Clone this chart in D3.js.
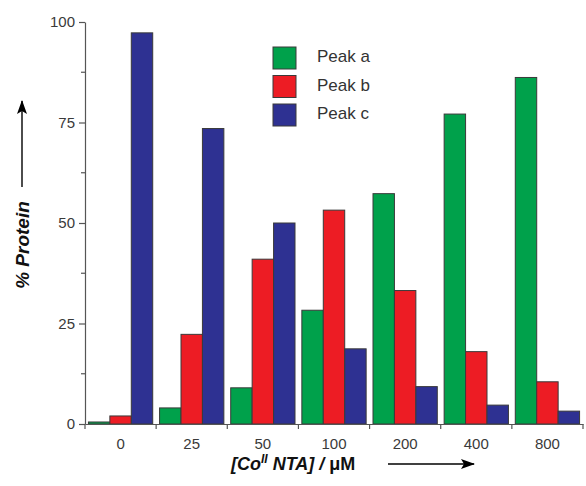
<!DOCTYPE html>
<html>
<head>
<meta charset="utf-8">
<script src="https://cdn.jsdelivr.net/npm/d3@7"></script>
<style>
  body { margin: 0; background: #fff; }
  text { font-family: "Liberation Sans", Arial, sans-serif; }
</style>
</head>
<body>
<div id="chart"></div>
<script>
// concentrations of Co(II) NTA, uM
const categories = ["0", "25", "50", "100", "200", "400", "800"];
const seriesNames = ["Peak a", "Peak b", "Peak c"];
const peakA = [0.5, 4, 9, 28.3, 57.3, 77.1, 86.2];
const peakB = [2, 22.3, 41, 53.2, 33.2, 18, 10.5];
const peakC = [97.3, 73.5, 50, 18.7, 9.3, 4.7, 3.2];
const yTicks = [0, 25, 50, 75, 100];
const yMinorTicks = [12.5, 37.5, 62.5, 87.5];
const colors = ["#00a14b", "#ed1c24", "#2e3192"];

const W = 586, H = 486;
const margin = {top: 22, right: 3, bottom: 62, left: 85};
const width = W - margin.left - margin.right;
const height = H - margin.top - margin.bottom;

const svg = d3.select("#chart").append("svg")
    .attr("width", W)
    .attr("height", H);

const defs = svg.append("defs");
defs.append("marker")
    .attr("id", "arrow")
    .attr("viewBox", "0 0 14 12")
    .attr("refX", 13).attr("refY", 6)
    .attr("markerWidth", 14).attr("markerHeight", 12)
    .attr("markerUnits", "userSpaceOnUse")
    .attr("orient", "auto")
    .append("path")
    .attr("d", "M0,1 L14,6 L0,11 L3,6 Z")
    .attr("fill", "#000");

const g = svg.append("g")
    .attr("transform", `translate(${margin.left},${margin.top})`);

const x0 = d3.scaleBand().domain(categories).range([0, width]).paddingInner(0).paddingOuter(0);
const x1 = d3.scaleBand().domain(seriesNames).range([0, x0.bandwidth()]).paddingOuter(0.16).paddingInner(0);
const y = d3.scaleLinear().domain([0, 100]).range([height, 0]);

const data = categories.map((c, i) => ({
    cat: c,
    vals: [peakA[i], peakB[i], peakC[i]]
}));

// bars
const groups = g.selectAll(".group")
    .data(data)
    .enter().append("g")
    .attr("class", "group")
    .attr("transform", (d) => `translate(${x0(d.cat)},0)`);

groups.selectAll("rect")
    .data((d) => d.vals.map((v, k) => ({name: seriesNames[k], v: v, k: k})))
    .enter().append("rect")
    .attr("x", (d) => x1(d.name))
    .attr("y", (d) => y(d.v))
    .attr("width", x1.bandwidth())
    .attr("height", (d) => y(0) - y(d.v))
    .attr("fill", (d) => colors[d.k])
    .attr("stroke", "#3a3a3a")
    .attr("stroke-width", 1);

// y axis
const yAxis = g.append("g").attr("class", "y axis");
yAxis.call(d3.axisLeft(y).tickValues(yTicks).tickSize(6).tickPadding(4).tickSizeOuter(0));
yAxis.append("g").selectAll("line")
    .data(yMinorTicks)
    .enter().append("line")
    .attr("x1", -4).attr("x2", 0)
    .attr("y1", (d) => y(d)).attr("y2", (d) => y(d));

// x axis
const xAxis = g.append("g").attr("class", "x axis")
    .attr("transform", `translate(0,${height})`);
xAxis.call(d3.axisBottom(x0).tickSize(0).tickPadding(14).tickSizeOuter(0));
xAxis.append("g").selectAll("line")
    .data(categories.map((c) => x0(c) + x0.bandwidth()).concat([0]))
    .enter().append("line")
    .attr("x1", (d) => d).attr("x2", (d) => d)
    .attr("y1", 0).attr("y2", 5);

svg.selectAll(".axis .domain").attr("stroke", "#555").attr("stroke-width", 1.2);
svg.selectAll(".axis line").attr("stroke", "#555").attr("stroke-width", 1.2);
svg.selectAll(".axis text")
    .attr("fill", "#3a3a3a")
    .attr("font-size", 15)
    .attr("font-family", "Liberation Sans, Arial, sans-serif");

// y axis title
const yTitle = svg.append("g").attr("transform", "translate(29,245) rotate(-90)");
yTitle.append("text")
    .attr("text-anchor", "middle")
    .attr("font-size", 19)
    .attr("font-weight", "bold")
    .attr("font-style", "italic")
    .attr("fill", "#111")
    .text("% Protein");
svg.append("line")
    .attr("x1", 22).attr("x2", 22)
    .attr("y1", 187).attr("y2", 101)
    .attr("stroke", "#000").attr("stroke-width", 1.4)
    .attr("marker-end", "url(#arrow)");

// x axis title
const xTitle = svg.append("text")
    .attr("x", 231).attr("y", 470)
    .attr("font-size", 18)
    .attr("font-weight", "bold")
    .attr("font-style", "italic")
    .attr("fill", "#111");
xTitle.append("tspan").text("[Co");
xTitle.append("tspan").attr("font-size", 12).attr("dy", -7).text("II");
xTitle.append("tspan").attr("dy", 7).text(" NTA] / ");
xTitle.append("tspan").attr("font-style", "normal").text("μM");
svg.append("line")
    .attr("x1", 388).attr("x2", 474)
    .attr("y1", 464).attr("y2", 464)
    .attr("stroke", "#000").attr("stroke-width", 1.4)
    .attr("marker-end", "url(#arrow)");

// legend
const legend = svg.append("g").attr("transform", "translate(273,47)");
const items = legend.selectAll(".item")
    .data(seriesNames)
    .enter().append("g")
    .attr("class", "item")
    .attr("transform", (d, i) => `translate(0,${i * 28.5})`);
items.append("rect")
    .attr("width", 23).attr("height", 22)
    .attr("fill", (d, i) => colors[i])
    .attr("stroke", "#3a3a3a")
    .attr("stroke-width", 1);
items.append("text")
    .attr("x", 44).attr("y", 15)
    .attr("font-size", 17)
    .attr("fill", "#333")
    .text((d) => d);
</script>
</body>
</html>
